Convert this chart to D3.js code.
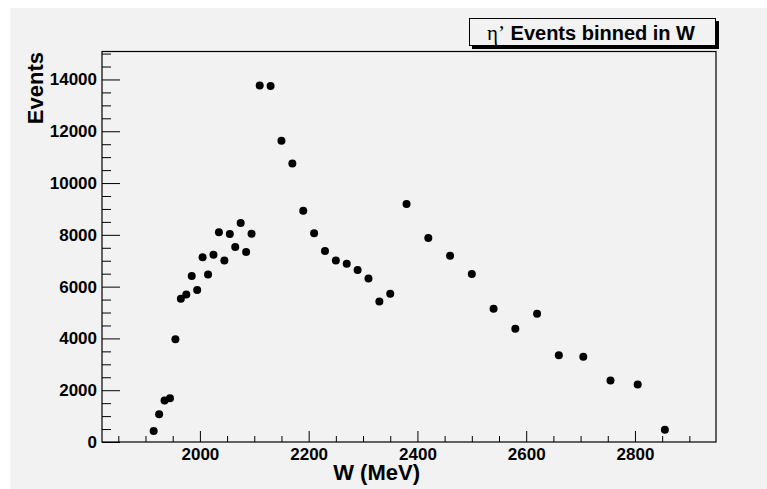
<!DOCTYPE html>
<html>
<head>
<meta charset="utf-8">
<script src="https://cdn.jsdelivr.net/npm/d3@7"></script>
<style>
  body { margin: 0; background: #fff; }
  svg { display: block; }
  .tick text { font-family: "Liberation Sans", Arial, sans-serif; font-weight: bold; font-size: 17px; fill: #000; }
</style>
</head>
<body>
<div id="chart"></div>
<script>
// W bin centres (MeV)
var wValues = [1915, 1925, 1935, 1945, 1955, 1965, 1975, 1985, 1995, 2005,
  2015, 2025, 2035, 2045, 2055, 2065, 2075, 2085, 2095,
  2110, 2130, 2150, 2170, 2190, 2210, 2230, 2250, 2270, 2290, 2310, 2330, 2350,
  2380, 2420, 2460, 2500, 2540, 2580, 2620,
  2660, 2705, 2755, 2805, 2855];

// events per bin
var events = [425, 1071, 1598, 1690, 3972, 5531, 5698, 6409, 5868, 7130,
  6472, 7233, 8096, 7013, 8033, 7530, 8459, 7337, 8045,
  13770, 13743, 11631, 10753, 8935, 8057, 7376, 7013, 6885, 6641, 6318, 5428, 5725,
  9190, 7879, 7195, 6486, 5144, 4371, 4951,
  3353, 3288, 2371, 2216, 476];

var xTicks = [2000, 2200, 2400, 2600, 2800];
var yTicks = [0, 2000, 4000, 6000, 8000, 10000, 12000, 14000];

var svgWidth = 767;
var svgHeight = 489;

var frame = { left: 102, right: 716, top: 51.5, bottom: 442 };

var svg = d3.select("#chart")
  .append("svg")
  .attr("width", svgWidth)
  .attr("height", svgHeight);

// canvas background
svg.append("rect")
  .attr("x", 10).attr("y", 8)
  .attr("width", svgWidth - 10).attr("height", svgHeight - 8)
  .attr("fill", "#f2f2f2");

var x = d3.scaleLinear().domain([1820, 2949]).range([frame.left, frame.right]);
var y = d3.scaleLinear().domain([0, 15080]).range([frame.bottom, frame.top]);

// minor ticks
var xMinor = d3.range(1850, 2949, 50).filter(v => xTicks.indexOf(v) < 0);
var yMinor = d3.range(500, 15080, 500).filter(v => yTicks.indexOf(v) < 0);

svg.append("g")
  .attr("transform", `translate(0, ${frame.bottom})`)
  .call(d3.axisBottom(x).tickValues(xMinor).tickSize(-6).tickFormat(""))
  .call(g => g.select(".domain").remove());

svg.append("g")
  .attr("transform", `translate(0, ${frame.bottom})`)
  .call(d3.axisBottom(x).tickValues(xTicks).tickSize(-11).tickPadding(7).tickFormat(d3.format("d")))
  .call(g => g.select(".domain").remove())
  .call(g => g.selectAll("text").attr("dy", "0.65em"));

svg.append("g")
  .attr("transform", `translate(${frame.left}, 0)`)
  .call(d3.axisLeft(y).tickValues(yMinor).tickSize(-9).tickFormat(""))
  .call(g => g.select(".domain").remove());

svg.append("g")
  .attr("transform", `translate(${frame.left}, 0)`)
  .call(d3.axisLeft(y).tickValues(yTicks).tickSize(-18).tickPadding(5).tickFormat(d3.format("d")))
  .call(g => g.select(".domain").remove());

svg.selectAll(".tick line").attr("stroke", "#000");

// frame
svg.append("rect")
  .attr("x", frame.left).attr("y", frame.top)
  .attr("width", frame.right - frame.left)
  .attr("height", frame.bottom - frame.top)
  .attr("fill", "none")
  .attr("stroke", "#000")
  .attr("stroke-width", 1.2);

// points
svg.append("g")
  .selectAll("circle")
  .data(wValues)
  .enter()
  .append("circle")
  .attr("cx", d => x(d))
  .attr("cy", (d, i) => y(events[i]))
  .attr("r", 4)
  .attr("fill", "#000");

// axis titles
svg.append("text")
  .attr("x", 420)
  .attr("y", 480)
  .attr("text-anchor", "end")
  .attr("font-family", "Liberation Sans, Arial, sans-serif")
  .attr("font-weight", "bold")
  .attr("font-size", "22px")
  .text("W (MeV)");

svg.append("text")
  .attr("transform", "translate(43, 52) rotate(-90)")
  .attr("text-anchor", "end")
  .attr("font-family", "Liberation Sans, Arial, sans-serif")
  .attr("font-weight", "bold")
  .attr("font-size", "22px")
  .text("Events");

// title box with shadow
svg.append("rect")
  .attr("x", 472).attr("y", 21)
  .attr("width", 247).attr("height", 28)
  .attr("fill", "#000");
svg.append("rect")
  .attr("x", 469.5).attr("y", 18.5)
  .attr("width", 246).attr("height", 27)
  .attr("fill", "#f2f2f2")
  .attr("stroke", "#000")
  .attr("stroke-width", 1);

var title = svg.append("text")
  .attr("x", 591)
  .attr("y", 39.5)
  .attr("text-anchor", "middle")
  .attr("font-family", "Liberation Sans, Arial, sans-serif")
  .attr("font-weight", "bold")
  .attr("font-size", "20px");
title.append("tspan")
  .attr("font-family", "Liberation Serif, Times New Roman, serif")
  .attr("font-weight", "normal")
  .attr("font-size", "21px")
  .text("η’");
title.append("tspan").text(" Events binned in W");
</script>
</body>
</html>
